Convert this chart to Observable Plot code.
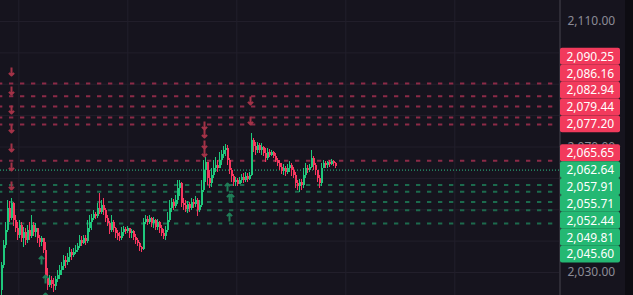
<!DOCTYPE html>
<html><head><meta charset="utf-8">
<script src="https://cdn.jsdelivr.net/npm/d3@7"></script>
<script src="https://cdn.jsdelivr.net/npm/@observablehq/plot@0.6"></script>
<style>
html,body{margin:0;padding:0;background:#0d0c12;overflow:hidden;}
#chart{width:633px;height:295px;background:#0d0c12;}
#chart svg{display:block;}
</style></head><body><div id="chart"></div>
<script>
// ---- data ----
const firstOpen = 2024.3;
const closes = [
2032.2,2038.6,2043.4,2050.4,2047.2,2052.0,2046.6,2044.0,2041.8,2045.0,
2040.8,2042.8,2040.2,2043.4,2041.5,2045.0,2042.8,2044.0,2040.8,2039.6,
2040.8,2037.0,2028.1,2025.9,2027.5,2026.2,2025.5,2027.8,2029.0,2030.6,
2031.9,2033.8,2033.2,2034.8,2036.4,2035.4,2036.4,2037.0,2038.3,2040.2,
2039.3,2040.8,2039.9,2044.0,2045.9,2047.2,2048.5,2047.9,2050.4,2049.1,
2051.4,2049.8,2047.2,2045.6,2043.4,2045.9,2044.0,2042.4,2041.5,2040.8,
2042.8,2043.7,2043.1,2044.0,2042.4,2043.1,2041.2,2040.2,2039.3,2038.0,
2037.3,2045.9,2046.9,2045.9,2047.2,2045.6,2046.6,2044.3,2045.9,2044.0,
2042.4,2041.5,2043.4,2046.6,2050.4,2052.3,2051.0,2053.0,2056.8,2058.4,
2052.0,2051.4,2050.1,2051.7,2050.4,2052.3,2051.7,2053.0,2049.8,2051.4,
2056.1,2062.5,2065.1,2060.0,2058.4,2060.9,2063.1,2064.1,2063.1,2065.7,
2067.6,2068.9,2069.5,2065.7,2062.5,2060.6,2058.7,2059.3,2058.0,2059.3,
2060.3,2059.3,2060.6,2059.6,2060.9,2072.1,2070.2,2068.9,2070.5,2068.9,
2069.8,2067.9,2066.3,2068.2,2067.3,2068.2,2067.0,2065.7,2064.7,2063.5,
2062.2,2063.1,2061.9,2063.1,2064.1,2062.5,2060.9,2058.4,2057.4,2058.7,
2057.7,2060.9,2063.1,2062.5,2063.5,2066.3,2064.1,2062.5,2060.0,2058.4,
2063.1,2064.7,2064.1,2065.1,2064.4,2065.4,2064.7,2063.8];
const highs = [
2033.2,2040.2,2045.9,2053.0,2052.6,2053.6,2052.3,2048.2,2045.9,2046.6,
2045.9,2044.3,2044.0,2045.0,2045.9,2048.2,2045.9,2045.6,2044.0,2041.8,
2041.5,2040.8,2039.6,2031.3,2029.0,2028.7,2028.1,2028.7,2030.6,2032.2,
2033.2,2035.4,2035.1,2036.1,2038.0,2037.3,2037.7,2038.6,2039.3,2041.8,
2041.5,2041.8,2041.8,2046.6,2048.2,2048.5,2049.8,2049.1,2052.0,2055.2,
2053.0,2053.6,2050.4,2048.2,2046.3,2048.2,2046.6,2044.3,2043.4,2042.8,
2044.3,2044.7,2044.3,2044.7,2044.0,2043.7,2043.4,2042.1,2040.8,2039.6,
2038.3,2047.2,2048.2,2047.9,2048.2,2047.5,2047.5,2046.9,2046.9,2046.3,
2045.0,2043.7,2044.7,2049.1,2053.0,2053.6,2053.3,2054.5,2059.3,2059.3,
2058.7,2053.6,2053.0,2052.6,2052.3,2053.6,2053.3,2054.2,2053.6,2053.0,
2059.3,2065.7,2066.7,2065.1,2062.5,2063.1,2065.7,2066.7,2065.7,2068.2,
2068.9,2070.2,2070.8,2070.5,2066.3,2063.1,2061.2,2060.3,2060.0,2060.3,
2061.2,2061.6,2061.9,2061.6,2061.9,2074.3,2072.7,2071.4,2071.4,2071.1,
2071.1,2070.2,2069.5,2069.5,2069.2,2068.9,2068.6,2067.9,2066.3,2065.7,
2064.7,2064.4,2063.8,2064.4,2065.4,2064.7,2063.5,2061.9,2059.3,2059.6,
2059.6,2063.1,2064.7,2064.1,2064.4,2068.9,2067.0,2064.7,2062.5,2060.9,
2064.7,2065.7,2065.4,2065.4,2065.7,2066.0,2065.7,2065.1];
const lows = [
2022.7,2031.3,2037.7,2042.8,2045.9,2046.6,2044.7,2042.8,2040.2,2040.8,
2039.6,2038.0,2038.6,2039.3,2040.2,2040.8,2041.5,2041.2,2039.3,2038.0,
2038.3,2036.1,2026.5,2024.3,2025.2,2024.9,2023.6,2024.3,2026.8,2027.8,
2029.0,2030.6,2031.3,2032.2,2033.2,2033.8,2034.8,2035.7,2036.4,2037.7,
2038.3,2038.9,2038.6,2039.3,2042.8,2043.4,2046.6,2046.9,2047.2,2048.5,
2048.5,2048.2,2045.9,2044.7,2042.1,2042.8,2042.8,2040.8,2040.2,2039.9,
2040.2,2041.5,2042.1,2042.4,2040.8,2040.8,2040.2,2038.9,2038.3,2036.7,
2036.4,2037.0,2045.3,2045.0,2045.3,2044.3,2044.0,2043.4,2043.4,2042.4,
2041.5,2040.5,2040.2,2042.8,2045.9,2049.1,2049.8,2050.4,2051.7,2054.2,
2050.7,2049.8,2049.1,2048.8,2049.1,2049.8,2050.4,2050.7,2047.9,2049.1,
2050.7,2055.5,2058.7,2057.7,2056.8,2057.1,2060.0,2061.9,2061.9,2063.1,
2064.1,2066.3,2067.0,2064.1,2061.2,2058.7,2057.4,2057.4,2057.4,2058.0,
2058.4,2058.4,2058.7,2058.7,2059.3,2060.6,2068.2,2067.3,2067.9,2067.9,
2067.3,2067.0,2065.1,2065.7,2066.7,2067.0,2066.3,2065.1,2063.8,2062.5,
2061.2,2060.9,2060.6,2061.2,2061.9,2060.6,2060.0,2056.8,2056.1,2055.5,
2056.1,2056.8,2060.0,2061.6,2061.9,2063.1,2062.5,2060.9,2058.7,2056.8,
2057.4,2063.1,2063.1,2063.1,2063.5,2064.1,2063.8,2063.1];

const priceTicks = [2030, 2040, 2050, 2060, 2070, 2080, 2090, 2100, 2110];
const timeGrid = [8.65, 63.15, 117.65, 172.15, 226.65];
const resistanceLevels = [2090.25, 2086.16, 2082.94, 2079.44, 2077.20, 2065.65];
const supportLevels = [2057.91, 2055.71, 2052.44, 2049.81, 2045.60];
const lastPrice = 2062.64;

const sellSignalBar = [5,5,5,5,5,5,5,101.5,101.5,101.5,101.5,124.5,124.5];
const sellSignalPrice = [2092.78,2086.73,2080.68,2074.62,2068.56,2062.51,2056.45,2075.58,2073.02,2069.52,2066.97,2083.54,2077.17];
const buySignalBar = [20,22,22,113,114,115,114];
const buySignalPrice = [2035.10,2029.04,2023.30,2058.36,2054.86,2054.86,2048.80];

// ---- styling ----
const BG = "#16141e", GRID = "#221f2b", AXIS_TXT = "#8c8b96";
const UP = "#1fc87c", DOWN = "#f7375f";
const BOX_RED = "#f23a5c", BOX_GREEN = "#24b873";
const W = 625, H = 295, MR = 66;
const xDomain = [-0.5, 279];
const yDomain = [2022.67, 2116.69];
const fmt = d3.format(",.2f");

const candles = closes.map((c, i) => ({
  i, open: i ? closes[i - 1] : firstOpen, close: c, high: highs[i], low: lows[i]
}));
const col = d => d.close >= d.open ? UP : DOWN;

const sells = sellSignalBar.map((b, k) => ({b, p: sellSignalPrice[k]}));
const buys = buySignalBar.map((b, k) => ({b, p: buySignalPrice[k]}));

// price labels with collision resolution around the last price
const ys = Plot.scale({y: {domain: yDomain, range: [H, 0]}});
const xs = Plot.scale({x: {domain: xDomain, range: [0, W - MR]}});
const labels = [
  ...resistanceLevels.map(v => ({v, color: BOX_RED})),
  {v: lastPrice, color: BOX_GREEN},
  ...supportLevels.map(v => ({v, color: BOX_GREEN}))
].sort((a, b) => b.v - a.v);
const LH = 16.9;
const ai = labels.findIndex(d => d.v === lastPrice);
labels[ai].pos = ys.apply(lastPrice);
for (let k = ai - 1; k >= 0; k--) labels[k].pos = Math.min(ys.apply(labels[k].v), labels[k + 1].pos - LH);
for (let k = ai + 1; k < labels.length; k++) labels[k].pos = Math.max(ys.apply(labels[k].v), labels[k - 1].pos + LH);
const boxX1 = xs.invert(W - MR + 1), boxX2 = xs.invert(W - MR + 61);

// axis tick labels that are entirely hidden behind the price boxes are skipped
const covered = t => {
  const p = ys.apply(t);
  return labels.some(d => p - 5 >= d.pos - LH / 2 - 0.5 && p + 5 <= d.pos + LH / 2 + 0.5) ||
    labels.some((d, k) => k < labels.length - 1 && Math.abs(d.pos + LH / 2 - (labels[k + 1].pos - LH / 2)) < 1 &&
      p - 5 >= d.pos - LH / 2 && p + 5 <= labels[k + 1].pos + LH / 2);
};
const axisTicks = priceTicks.filter(t => !covered(t));

// arrow shape
let arrowShape = {
  draw(ctx, l) {
    ctx.moveTo(0, 0); ctx.lineTo(0, -l);
    ctx.moveTo(-2.6, -l + 2.6); ctx.lineTo(0, -l); ctx.lineTo(2.6, -l + 2.6);
  }
};
try { Plot.vector([], {x: 0, y: 0, shape: arrowShape}); } catch (e) { arrowShape = "arrow"; }

const chart = Plot.plot({
  width: W, height: H,
  marginLeft: 0, marginRight: MR, marginTop: 0, marginBottom: 0,
  x: {domain: xDomain, axis: null},
  y: {domain: yDomain, range: [H, 0]},
  style: {background: BG, fontFamily: "'Noto Sans', sans-serif", fontSize: "12px", overflow: "visible"},
  marks: [
    Plot.ruleY(priceTicks, {stroke: GRID, strokeWidth: 1}),
    Plot.ruleX(timeGrid, {stroke: GRID, strokeWidth: 1}),
    Plot.ruleY(resistanceLevels, {stroke: "#8c2a47", strokeWidth: 2, strokeDasharray: "4.3,6.7", strokeDashoffset: 2}),
    Plot.ruleY(supportLevels, {stroke: "#1c6a4d", strokeWidth: 2, strokeDasharray: "4.3,6.7", strokeDashoffset: 2}),
    Plot.ruleY([lastPrice], {stroke: "#2bc488", strokeWidth: 1, strokeDasharray: "1,2"}),
    Plot.ruleX(candles, {x: "i", y1: "low", y2: "high", stroke: col, strokeWidth: 1, shapeRendering: "crispEdges"}),
    Plot.ruleX(candles, {x: "i", y1: "open", y2: "close", stroke: col, strokeWidth: 1.5, dx: 0.25, shapeRendering: "crispEdges"}),
    Plot.vector(sells, {x: "b", y: "p", rotate: 180, length: 8, anchor: "end", shape: arrowShape, stroke: "#a33247", strokeWidth: 2, strokeLinecap: "butt"}),
    Plot.vector(buys, {x: "b", y: "p", rotate: 0, length: 8, anchor: "end", shape: arrowShape, stroke: "#1f7d57", strokeWidth: 2, strokeLinecap: "butt"}),
    Plot.ruleX([xDomain[1]], {stroke: "#46444f", strokeWidth: 1, dx: 0.5}),
    Plot.axisY(axisTicks, {anchor: "right", tickSize: 0, tickPadding: 8, tickFormat: fmt, fill: AXIS_TXT, fontSize: 12, label: null}),
    Plot.rect(labels, {x1: boxX1, x2: boxX2, y1: d => ys.invert(d.pos - LH / 2), y2: d => ys.invert(d.pos + LH / 2), fill: d => d.color, rx: 2}),
    Plot.text(labels, {x: boxX1, y: d => ys.invert(d.pos), text: d => fmt(d.v), textAnchor: "start", dx: 6, fill: "#ffffff", fontSize: 12})
  ]
});
document.getElementById("chart").appendChild(chart);
</script>
</body></html>
